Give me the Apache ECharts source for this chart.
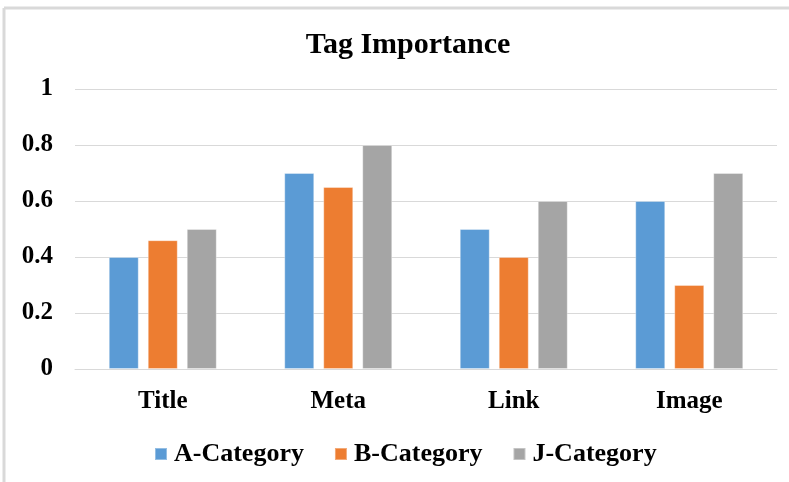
<!DOCTYPE html>
<html>
<head>
<meta charset="utf-8">
<script src="https://cdn.jsdelivr.net/npm/echarts@6/dist/echarts.min.js"></script>
<style>
html,body{margin:0;padding:0;background:#fff;}
#chart{width:789px;height:482px;}
</style>
</head>
<body>
<div id="chart"></div>
<script>
const categories = ['Title', 'Meta', 'Link', 'Image'];
const seriesNames = ['A-Category', 'B-Category', 'J-Category'];
const aValues = [0.4, 0.7, 0.5, 0.6];
const bValues = [0.46, 0.65, 0.4, 0.3];
const jValues = [0.5, 0.8, 0.6, 0.7];
const yTicks = [0, 0.2, 0.4, 0.6, 0.8, 1];
const colors = ['#5B9BD5', '#ED7D31', '#A5A5A5'];

const font = '"Liberation Serif", "Times New Roman", serif';
const chart = echarts.init(document.getElementById('chart'), null, {renderer: 'canvas'});
const values = [aValues, bValues, jValues];
chart.setOption({
  animation: false,
  backgroundColor: '#fff',
  textStyle: {fontFamily: font},
  graphic: [
    {type: 'line', shape: {x1: 4, y1: 8, x2: 789, y2: 8}, style: {stroke: '#d9d9d9', lineWidth: 3}},
    {type: 'line', shape: {x1: 4, y1: 8, x2: 4, y2: 482}, style: {stroke: '#d9d9d9', lineWidth: 3}}
  ],
  title: {
    text: 'Tag Importance',
    left: 403,
    textAlign: 'center',
    top: 25,
    textStyle: {fontFamily: font, fontWeight: 'bold', fontSize: 30, color: '#000'}
  },
  legend: {
    data: seriesNames,
    top: 436,
    left: 149,
    itemWidth: 12,
    itemHeight: 12,
    itemGap: 30,
    icon: 'rect',
    textStyle: {fontFamily: font, fontWeight: 'bold', fontSize: 26, color: '#000', padding: [0, 0, 0, 2]}
  },
  grid: {left: 75, right: 12, top: 89, bottom: 113, containLabel: false},
  xAxis: {
    type: 'category',
    data: categories,
    axisLine: {lineStyle: {color: '#d9d9d9', width: 1}},
    axisTick: {show: false},
    axisLabel: {fontFamily: font, fontWeight: 'bold', fontSize: 25, color: '#000', margin: 20}
  },
  yAxis: {
    type: 'value',
    min: yTicks[0],
    max: yTicks[yTicks.length - 1],
    interval: 0.2,
    axisLine: {show: false},
    axisTick: {show: false},
    splitLine: {lineStyle: {color: '#d9d9d9', width: 1}},
    axisLabel: {fontFamily: font, fontWeight: 'bold', fontSize: 25, color: '#000', margin: 22,
      formatter: v => String(Math.round(v * 10) / 10)}
  },
  series: seriesNames.map((name, i) => ({
    name: name,
    type: 'bar',
    data: values[i],
    barWidth: 30,
    barGap: '30%',
    itemStyle: {color: colors[i], borderColor: 'rgba(255,255,255,0.35)', borderWidth: 1}
  }))
});
</script>
</body>
</html>
